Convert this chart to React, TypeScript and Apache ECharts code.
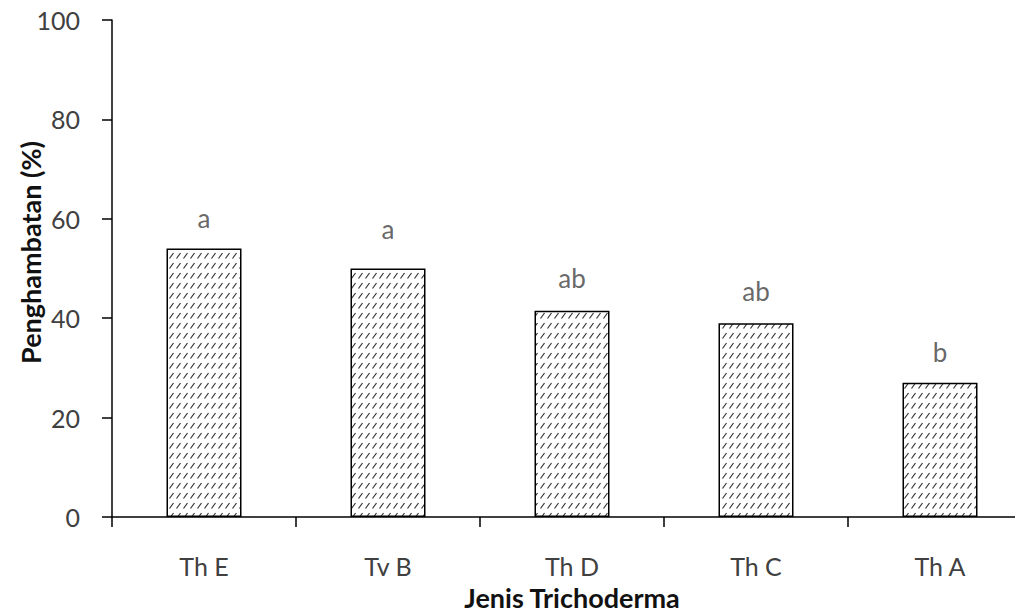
import React, { useEffect, useRef } from "react";
import * as echarts from "echarts";

const categories = ["Th E", "Tv B", "Th D", "Th C", "Th A"];
const inhibition = [54, 50, 41.5, 39, 27];
const letters = ["a", "a", "ab", "ab", "b"];
const letterY = [60.2, 58, 48.1, 45.5, 33.2];
const yTicks = { min: 0, max: 100, interval: 20 };

function makeHatch(): HTMLCanvasElement {
  const c = document.createElement("canvas");
  c.width = 7;
  c.height = 10;
  const ctx = c.getContext("2d")!;
  ctx.fillStyle = "#ffffff";
  ctx.fillRect(0, 0, 7, 10);
  ctx.strokeStyle = "#333333";
  ctx.lineWidth = 1.2;
  ctx.beginPath();
  ctx.moveTo(1.5, 8.5);
  ctx.lineTo(5.5, 3);
  ctx.stroke();
  return c;
}

export default function App() {
  const ref = useRef<HTMLDivElement>(null);
  useEffect(() => {
    if (!ref.current) return;
    const chart = echarts.init(ref.current, undefined, { renderer: "svg" });
    const hatch = makeHatch();
    const font = "Lato, 'Open Sans', sans-serif";
    chart.setOption({
      animation: false,
      grid: { left: 112, top: 20, right: -9, bottom: 95, containLabel: false, outerBoundsMode: "none" },
      xAxis: {
        type: "category",
        data: categories,
        name: "Jenis Trichoderma",
        nameLocation: "middle",
        nameGap: 67,
        nameMoveOverlap: false,
        nameTextStyle: { fontFamily: font, fontSize: 27, lineHeight: 27, fontWeight: "bold", color: "#111" },
        axisLine: { lineStyle: { color: "#000", width: 1.5 } },
        axisTick: { show: true, length: 10, alignWithLabel: false, lineStyle: { color: "#000", width: 1.5 } },
        axisLabel: { fontFamily: font, fontSize: 25, lineHeight: 26, color: "#404040", margin: 36 },
      },
      yAxis: {
        type: "value",
        min: yTicks.min,
        max: yTicks.max,
        interval: yTicks.interval,
        name: "Penghambatan (%)",
        nameLocation: "middle",
        nameGap: 68,
        nameMoveOverlap: false,
        nameTextStyle: {
          fontFamily: font,
          fontSize: 27,
          fontWeight: "bold",
          color: "#111",
          padding: [0, 0, 0, 32],
        },
        axisLine: { show: true, lineStyle: { color: "#000", width: 1.5 } },
        axisTick: { show: true, length: 10, lineStyle: { color: "#000", width: 1.5 } },
        axisLabel: { fontFamily: font, fontSize: 25, color: "#404040", margin: 32 },
        splitLine: { show: false },
      },
      series: [
        {
          type: "bar",
          data: inhibition,
          barWidth: 75,
          itemStyle: {
            color: { image: hatch, repeat: "repeat" },
            borderColor: "#000",
            borderWidth: 1.5,
          },
        },
        {
          type: "scatter",
          data: letterY.map((v, i) => ({ value: [categories[i], v], name: letters[i] })),
          symbolSize: 0,
          label: {
            show: true,
            position: "inside",
            formatter: (p: any) => p.name,
            fontFamily: font,
            fontSize: 26,
            color: "#404040",
          },
          silent: true,
        },
      ],
    });
    return () => chart.dispose();
  }, []);
  return <div ref={ref} style={{ width: 1023, height: 612, marginLeft: -8, marginTop: -8 }} />;
}
